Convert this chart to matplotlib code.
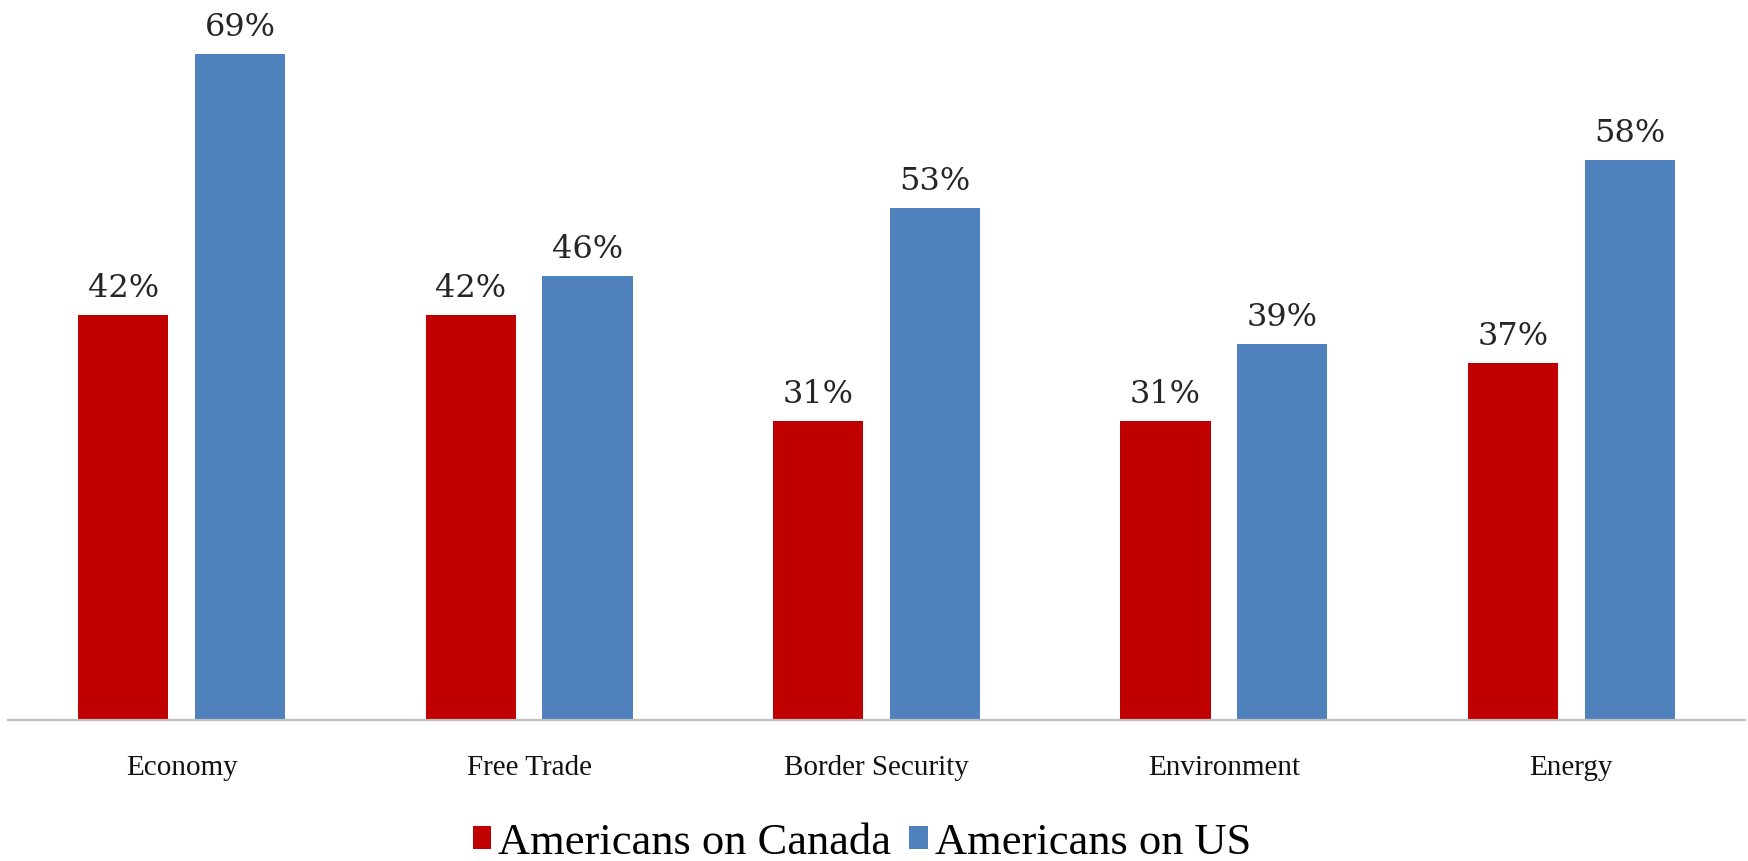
import numpy as np
import matplotlib.pyplot as plt

categories = ["Economy", "Free Trade", "Border Security", "Environment", "Energy"]
on_canada = [42, 42, 31, 31, 37]
on_us = [69, 46, 53, 39, 58]
series_names = ["Americans on Canada", "Americans on US"]

red = "#C00000"
blue = "#4F81BD"
font = "Liberation Serif"

fig = plt.figure(figsize=(17.48, 8.61), dpi=100)
ax = fig.add_axes([8 / 1748, 1 - 720 / 861, 1737 / 1748, 720 / 861])

x = np.arange(len(categories))
w = 0.26
off = 0.168
b1 = ax.bar(x - off, on_canada, w, color=red, label=series_names[0])
b2 = ax.bar(x + off, on_us, w, color=blue, label=series_names[1])

# value labels above each bar
for bars, vals in [(b1, on_canada), (b2, on_us)]:
    for b, v in zip(bars, vals):
        ax.annotate(f"{v}%", (b.get_x() + b.get_width() / 2, v),
                    xytext=(0, 13), textcoords="offset points",
                    ha="center", va="baseline", fontsize=23,
                    family="DejaVu Serif", color="#262626")

ax.set_xlim(-0.5, len(categories) - 0.5)
ax.set_ylim(0, 74.6)
ax.set_yticks([])
ax.set_xticks(x)
ax.set_xticklabels(categories, fontsize=21, family=font, color="#111111")
ax.tick_params(axis="x", length=0, pad=25)
for s in ["top", "right", "left"]:
    ax.spines[s].set_visible(False)
ax.spines["bottom"].set_color("#BFBFBF")
ax.spines["bottom"].set_linewidth(1.6)

fig.legend(handles=[b1, b2], loc="lower center", bbox_to_anchor=(862 / 1748, -0.002),
           ncol=2, frameon=False, prop={"family": font, "size": 32},
           handlelength=0.42, handleheight=0.42, handletextpad=0.16,
           columnspacing=0.4, borderpad=0, borderaxespad=0)

fig.savefig("out.png", dpi=100)
